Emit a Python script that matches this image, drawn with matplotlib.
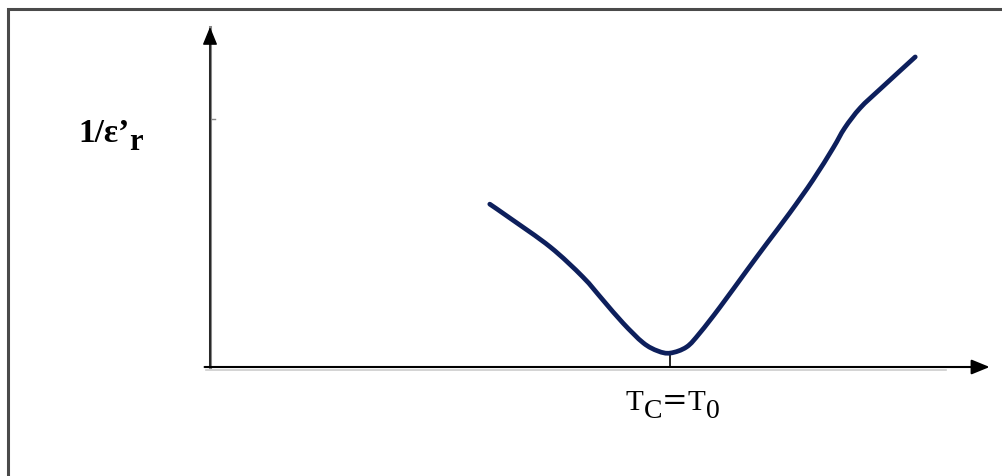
import numpy as np
import matplotlib.pyplot as plt
import matplotlib.transforms as mtransforms
from matplotlib.patches import Rectangle, PathPatch
from matplotlib.path import Path

# Courbe 1/eps'r en fonction de T (unités arbitraires)
temperature = [36.1, 38.7, 43.9, 48.1, 50.7, 53.3, 55.9, 57.8, 59.4, 61.5, 63.2,
               65.8, 69.3, 71.9, 74.8, 77.8, 80.4, 81.9, 83.9, 86.5, 91.0]
inv_eps = [47.9, 43.8, 35.3, 26.5, 19.7, 12.9, 7.1, 4.7, 4.1, 5.9, 10.0,
           17.6, 28.5, 36.5, 45.3, 55.0, 64.4, 70.3, 76.2, 81.8, 91.2]
T_curie = 59.4

# morceaux de texte : (texte, décalage vertical en px, taille, famille)
label_x = [("T", 0, 21, "Liberation Serif"), ("C", 8, 20, "Liberation Serif"),
           ("=", 0, 22, "DejaVu Serif"), ("T", 0, 21, "Liberation Serif"),
           ("0", 8, 20, "Liberation Serif")]
label_y = [("1/ε’", 0, 24, "Liberation Serif"), ("r", 8, 22, "Liberation Serif")]

W, H = 1003, 476
fig = plt.figure(figsize=(W / 100, H / 100), dpi=100)
fig.patch.set_facecolor("white")
renderer = fig.canvas.get_renderer()


def smooth_path(xs, ys):
    # Catmull-Rom -> Bezier cubique passant par tous les points
    p = np.column_stack([xs, ys])
    p = np.vstack([p[0], p, p[-1]])
    verts = [p[1]]
    codes = [Path.MOVETO]
    for i in range(1, len(p) - 2):
        c1 = p[i] + (p[i + 1] - p[i - 1]) / 6
        c2 = p[i + 1] - (p[i + 2] - p[i]) / 6
        verts += [c1, c2, p[i + 1]]
        codes += [Path.CURVE4] * 3
    return Path(verts, codes)


def chained_text(x, y, pieces, transform, center=False, **kw):
    texts = []
    width = 0
    for s, dy, size, fam in pieces:
        t = fig.text(x, y, s, fontsize=size, family=fam, va="baseline", ha="left",
                     transform=mtransforms.offset_copy(transform, x=width, y=-dy, units="dots"), **kw)
        w = t.get_window_extent(renderer).width
        texts.append((t, width, dy))
        width += w
    if center:
        for t, left, dy in texts:
            t.set_transform(mtransforms.offset_copy(transform, x=left - width / 2, y=-dy, units="dots"))
    return texts


# cadre autour du schéma
fig.patches.append(Rectangle((8.5 / W, -0.1), 1.2, (H - 8.5) / H + 0.1, transform=fig.transFigure,
                             fill=False, edgecolor="#4a4a4a", linewidth=2.2))

ax = fig.add_axes([210 / W, (H - 367) / H, 775 / W, 340 / H])
ax.set_xlim(0, 100)
ax.set_ylim(0, 100)
ax.axis("off")

# axes fléchés
ax.plot([0, 0], [0, 100], color="#888888", lw=2.2, zorder=1, clip_on=False)
ax.annotate("", xy=(0, 1), xytext=(0, 0), xycoords="axes fraction",
            arrowprops=dict(arrowstyle="-|>,head_length=1.1,head_width=0.45",
                            color="black", lw=1.0, shrinkA=0, shrinkB=0))
ax.annotate("", xy=(1.006, 0), xytext=(-0.007, 0), xycoords="axes fraction",
            arrowprops=dict(arrowstyle="-|>,head_length=1.1,head_width=0.45",
                            color="black", lw=1.5, shrinkA=0, shrinkB=0))
ax.plot([-0.5, 95], [-0.9, -0.9], color="#cccccc", lw=1.2, clip_on=False)
ax.plot([0, 0.6], [73, 73], color="#888888", lw=1, clip_on=False)

# courbe
ax.add_patch(PathPatch(smooth_path(temperature, inv_eps), fill=False, edgecolor="#0d1f5c",
                       lw=3.4, capstyle="round", joinstyle="round", zorder=3))

# repère Tc
ax.plot([T_curie, T_curie], [0, min(inv_eps)], color="black", lw=1.2, zorder=2)

chained_text(T_curie + 0.3, -12.5, label_x, ax.transData, center=True, color="black")
chained_text(78 / W, 1 - 142 / H, label_y, fig.transFigure, fontweight="bold", color="black")

fig.savefig("out.png", dpi=100, facecolor="white")
